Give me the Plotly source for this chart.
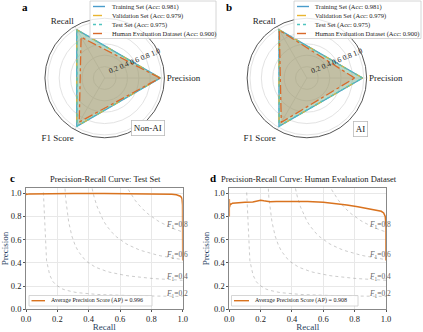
import numpy as np
import plotly.graph_objects as go

# ---------------- data ----------------
metrics = ["Precision", "Recall", "F1 Score"]
set_names = [
    "Training Set (Acc: 0.981)",
    "Validation Set (Acc: 0.979)",
    "Test Set (Acc: 0.975)",
    "Human Evaluation Dataset (Acc: 0.900)",
]
# class Non-AI: precision, recall, f1 per set
nonai_train = [0.980, 0.982, 0.981]
nonai_val = [0.978, 0.980, 0.979]
nonai_test = [0.975, 0.976, 0.975]
nonai_human = [0.970, 0.830, 0.895]
# class AI
ai_train = [0.982, 0.980, 0.981]
ai_val = [0.980, 0.978, 0.979]
ai_test = [0.976, 0.974, 0.975]
ai_human = [0.840, 0.970, 0.900]

radial_ticks = [0.2, 0.4, 0.6, 0.8, 1.0]

# PR curve, test set (recall, precision)
test_recall = [0.0, 0.0, 0.02, 0.1, 0.3, 0.5, 0.7, 0.8, 0.88, 0.93, 0.96, 0.975,
               0.985, 0.992, 0.996, 0.999, 1.0, 1.0]
test_precision = [1.0, 0.99, 0.995, 0.997, 0.998, 0.998, 0.997, 0.996, 0.994, 0.991,
                  0.987, 0.982, 0.975, 0.965, 0.95, 0.90, 0.80, 0.42]
test_ap = 0.996

# PR curve, human evaluation dataset
human_recall = [0.0, 0.0, 0.002, 0.005, 0.01, 0.02, 0.05, 0.1, 0.15, 0.2, 0.22, 0.26,
                0.3, 0.4, 0.5, 0.6, 0.67, 0.75, 0.82, 0.88, 0.93, 0.97, 0.985,
                0.995, 1.0, 1.0]
human_precision = [0.80, 0.95, 0.88, 0.91, 0.905, 0.915, 0.92, 0.922, 0.926, 0.94, 0.935,
                   0.928, 0.93, 0.932, 0.93, 0.923, 0.913, 0.90, 0.885, 0.867, 0.855,
                   0.845, 0.83, 0.80, 0.72, 0.42]
human_ap = 0.908

f1_levels = [0.2, 0.4, 0.6, 0.8]

# ---------------- style ----------------
W, H = 423, 332
FONT = "Liberation Serif, DejaVu Serif, serif"
colors = ["#4a9ccb", "#e8b530", "#4fc4bf", "#d9692a"]
fills = ["rgba(74,156,203,0.22)", "rgba(232,181,48,0.22)",
         "rgba(79,196,191,0.22)", "rgba(217,105,42,0.22)"]
dashes = ["solid", "dash", "dot", "dashdot"]
pr_color = "#d9731f"


def px(x):
    return x / W


def py(y):
    return 1 - y / H


fig = go.Figure()


def add_radar(values_list, subplot):
    for name, vals, c, fc, d in zip(set_names, values_list, colors, fills, dashes):
        fig.add_trace(go.Scatterpolar(
            r=vals + vals[:1], theta=metrics + metrics[:1],
            mode="lines", fill="toself", fillcolor=fc,
            line=dict(color=c, width=1.3, dash=d),
            name=name, subplot=subplot, showlegend=False,
        ))


add_radar([nonai_train, nonai_val, nonai_test, nonai_human], "polar")
add_radar([ai_train, ai_val, ai_test, ai_human], "polar2")

# PR curves
for xref, yref, rec, prec, ap in [
    ("x", "y", test_recall, test_precision, test_ap),
    ("x2", "y2", human_recall, human_precision, human_ap),
]:
    for f in f1_levels:
        x = np.linspace(0.01, 1, 50)
        y = f * x / (2 * x - f)
        keep = y >= 0
        fig.add_trace(go.Scatter(
            x=x[keep], y=y[keep], mode="lines", xaxis=xref, yaxis=yref,
            line=dict(color="rgba(128,128,128,0.5)", width=0.8, dash="dot"),
            showlegend=False, hoverinfo="skip",
        ))
        fig.add_annotation(
            x=0.88, y=y[45] + 0.02, xref=xref, yref=yref,
            text=f"<i>F</i><sub>1</sub>={f:.1f}", showarrow=False,
            xanchor="left", yanchor="middle",
            font=dict(family=FONT, size=7.5, color="#666666"),
        )
    fig.add_trace(go.Scatter(
        x=rec, y=prec, mode="lines", xaxis=xref, yaxis=yref,
        line=dict(color=pr_color, width=1.5),
        showlegend=False,
    ))


# hand-drawn legends (plotly's own legend rows are too tall for this size)
def legend_box(x0, y0, x1, y1, line_x0, line_x1, text_x, rows, fontsize):
    fig.add_shape(type="rect", xref="paper", yref="paper",
                  x0=px(x0), x1=px(x1), y0=py(y1), y1=py(y0),
                  fillcolor="rgba(255,255,255,0.85)",
                  line=dict(color="#cccccc", width=0.8), layer="above")
    for yc, label, c, d in rows:
        fig.add_shape(type="line", xref="paper", yref="paper",
                      x0=px(line_x0), x1=px(line_x1), y0=py(yc), y1=py(yc),
                      line=dict(color=c, width=1.4, dash=d), layer="above")
        fig.add_annotation(x=px(text_x), y=py(yc), xref="paper", yref="paper",
                           text=label, showarrow=False, xanchor="left", yanchor="middle",
                           font=dict(family=FONT, size=fontsize, color="#222222"))


row_y = [6.5, 15.5, 24.5, 33.5]
legend_box(90, 1, 216, 38.5, 93, 105, 110, list(zip(row_y, set_names, colors, dashes)), 6.5)
legend_box(294, 1, 421, 38.5, 297, 309, 313, list(zip(row_y, set_names, colors, dashes)), 6.5)
legend_box(29, 295.5, 152, 306, 31.5, 45, 49,
           [(300.7, f"Average Precision Score (AP) = {test_ap:.3f}", pr_color, "solid")], 6)
legend_box(231.5, 295.5, 358, 306, 234, 249, 253,
           [(300.7, f"Average Precision Score (AP) = {human_ap:.3f}", pr_color, "solid")], 6)

polar_common = dict(
    bgcolor="white",
    angularaxis=dict(
        rotation=0, direction="counterclockwise",
        showline=True, linecolor="#555555", linewidth=1,
        gridcolor="#e3e3e3", ticks="",
        tickfont=dict(family=FONT, size=9, color="#222222"),
    ),
    radialaxis=dict(
        range=[0, 1.05], tickvals=radial_ticks, tickformat=".1f",
        angle=22.5, tickangle=0, side="counterclockwise",
        showline=False, ticks="", gridcolor="#e3e3e3",
        tickfont=dict(family=FONT, size=7.5, color="#222222"),
    ),
)

axis_common = dict(
    showgrid=True, gridcolor="#e8e8e8", gridwidth=0.8,
    showline=True, linecolor="#888888", linewidth=0.8, mirror=True,
    ticks="outside", ticklen=2, tickcolor="#555555", automargin=False,
    tickfont=dict(family=FONT, size=8.5, color="#222222"),
    tickvals=[0, 0.2, 0.4, 0.6, 0.8, 1.0], tickformat=".1f", zeroline=False,
)

fig.update_layout(
    width=W, height=H,
    margin=dict(l=0, r=0, t=0, b=0),
    paper_bgcolor="white", plot_bgcolor="white",
    font=dict(family=FONT),
    showlegend=False,
    polar=dict(domain=dict(x=[0.105, 0.39], y=[0.585, 0.945]), **polar_common),
    polar2=dict(domain=dict(x=[0.583, 0.868], y=[0.585, 0.945]), **polar_common),
    xaxis=dict(domain=[px(26), px(182.7)], range=[0, 1], anchor="y",
               title=dict(text="Recall", font=dict(family=FONT, size=9), standoff=1),
               **axis_common),
    yaxis=dict(domain=[py(309.3), py(187.5)], range=[0, 1.05], anchor="x",
               title=dict(text="Precision", font=dict(family=FONT, size=9), standoff=2),
               **axis_common),
    xaxis2=dict(domain=[px(229.3), px(386)], range=[0, 1], anchor="y2",
                title=dict(text="Recall", font=dict(family=FONT, size=9), standoff=1),
                **axis_common),
    yaxis2=dict(domain=[py(309.3), py(187.5)], range=[0, 1.05], anchor="x2",
                title=dict(text="Precision", font=dict(family=FONT, size=9), standoff=2),
                **axis_common),
)

# panel letters, titles, class labels
for txt, x, y in [("a", 25, 7), ("b", 229, 7), ("c", 12, 178), ("d", 213, 178)]:
    fig.add_annotation(x=px(x), y=py(y), xref="paper", yref="paper", text=f"<b>{txt}</b>",
                       showarrow=False, xanchor="center", yanchor="middle",
                       font=dict(family=FONT, size=11, color="black"))

fig.add_annotation(x=px(105), y=py(179.5), xref="paper", yref="paper",
                   text="Precision-Recall Curve: Test Set", showarrow=False,
                   xanchor="center", yanchor="middle",
                   font=dict(family=FONT, size=8.5, color="#222222"))
fig.add_annotation(x=px(308.5), y=py(179.5), xref="paper", yref="paper",
                   text="Precision-Recall Curve: Human Evaluation Dataset", showarrow=False,
                   xanchor="center", yanchor="middle",
                   font=dict(family=FONT, size=8.5, color="#222222"))

for txt, x, y in [("Non-AI", 147.5, 127.5), ("AI", 360, 129)]:
    fig.add_annotation(x=px(x), y=py(y), xref="paper", yref="paper", text=txt, showarrow=False,
                       xanchor="center", yanchor="middle",
                       bgcolor="white", bordercolor="#bbbbbb", borderwidth=0.8, borderpad=2,
                       font=dict(family=FONT, size=9, color="#222222"))

# drop the browser's default body margin so the figure sits at the window's corner
fig.write_html("out.html", config={"displayModeBar": False},
               post_script="document.body.style.margin='0';")
